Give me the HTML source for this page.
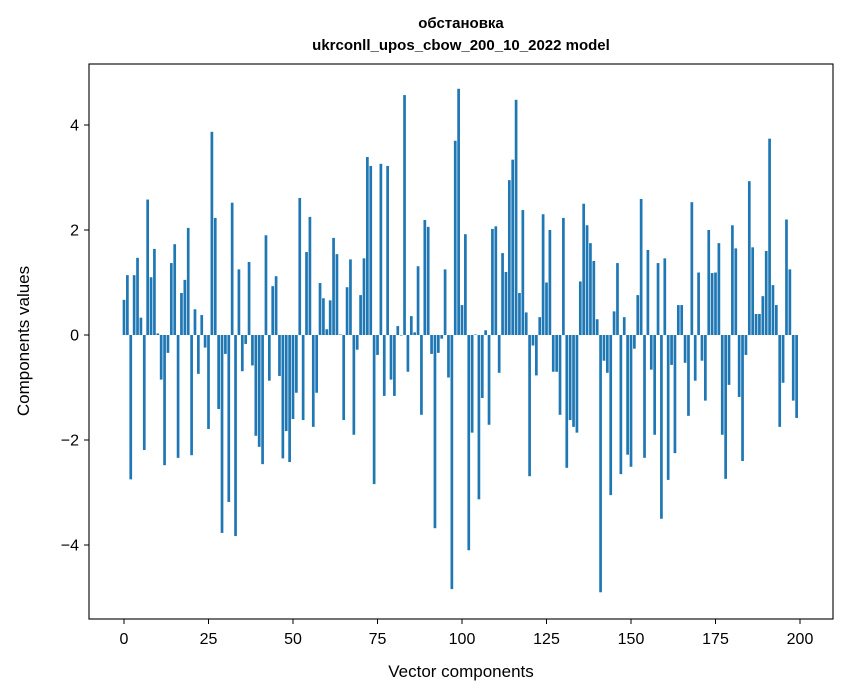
<!DOCTYPE html>
<html><head><meta charset="utf-8"><style>
html,body{margin:0;padding:0;background:#fff;}
svg{display:block;font-family:"Liberation Sans","DejaVu Sans",sans-serif;}
</style></head><body>
<svg id="chart" width="847" height="696" viewBox="0 0 847 696" xmlns="http://www.w3.org/2000/svg">
<rect x="0" y="0" width="847" height="696" fill="#fff"/>
<text x="461" y="28" text-anchor="middle" font-size="15" font-weight="bold">обстановка</text>
<text x="461" y="50" text-anchor="middle" font-size="15" font-weight="bold">ukrconll_upos_cbow_200_10_2022 model</text>
<g id="bars"></g>
<g id="xticks"></g>
<g id="yticks"></g>
<rect x="89" y="64" width="744" height="555" fill="none" stroke="#000" stroke-width="1.1"/>
<text x="461" y="677" text-anchor="middle" font-size="17">Vector components</text>
<text transform="translate(29,341) rotate(-90)" text-anchor="middle" font-size="17">Components values</text>
</svg>
<script>
const values = [0.67,1.14,-2.75,1.14,1.47,0.33,-2.19,2.58,1.1,1.64,0.03,-0.85,-2.48,-0.34,1.37,1.73,-2.34,0.8,1.05,2.04,
-2.29,0.49,-0.74,0.38,-0.24,-1.79,3.87,2.23,-1.41,-3.77,-0.36,-3.18,2.52,-3.83,1.25,-0.69,-0.17,1.39,-0.58,-1.92,
-2.13,-2.46,1.9,-0.87,0.93,1.12,-0.78,-2.35,-1.83,-2.42,-1.6,-1.1,2.61,-1.62,1.58,2.25,-1.75,-1.1,0.99,0.7,
0.11,0.66,1.85,1.54,0.01,-1.62,0.91,1.44,-1.9,-0.28,0.76,1.46,3.39,3.22,-2.84,-0.38,3.26,-1.16,3.22,-0.85,
-1.16,0.17,-0.01,4.57,-0.7,0.36,0.05,1.31,-1.52,2.19,2.06,-0.36,-3.68,-0.34,-0.07,1.25,-0.81,-4.84,3.7,4.69,
0.57,1.92,-4.1,-1.86,0.01,-3.13,-1.2,0.09,-1.71,2.02,2.07,-0.72,1.56,1.2,2.95,3.34,4.48,0.8,2.38,0.43,
-2.69,-0.2,-0.77,0.34,2.3,1.0,2.0,-0.7,-0.7,-1.52,2.23,-2.53,-1.62,-1.75,-1.86,1.02,2.5,2.09,1.75,1.41,
0.3,-4.9,-0.49,-0.72,-3.05,0.45,1.37,-2.65,0.34,-2.28,-2.51,-0.26,0.76,2.59,-2.34,1.62,-0.66,-1.9,1.37,-3.5,
1.46,-2.76,-0.57,-2.25,0.57,0.57,-0.53,-1.54,2.53,-0.87,1.19,-0.49,-1.25,2.0,1.18,1.19,1.75,-1.9,-2.74,-0.95,
2.09,1.65,-1.18,-2.4,-0.38,2.93,1.67,0.4,0.4,0.74,1.6,3.74,0.95,0.57,-1.75,-0.91,2.2,1.25,-1.25,-1.58];
const xTickValues = [0,25,50,75,100,125,150,175,200];
const yTickValues = [-4,-2,0,2,4];
const yTickLabels = ["\u22124","\u22122","0","2","4"];

const NS = "http://www.w3.org/2000/svg";
function xScale(v){ return 124 + (v) * 3.38; }
function yScale(v){ return 335 - v * 52.5; }
const barsG = document.getElementById('bars');
values.forEach(function(v, i){
  const r = document.createElementNS(NS,'rect');
  const x0 = xScale(i - 0.4), x1 = xScale(i + 0.4);
  const y0 = yScale(Math.max(v,0)), y1 = yScale(Math.min(v,0));
  r.setAttribute('x', x0);
  r.setAttribute('width', x1 - x0);
  r.setAttribute('y', y0);
  r.setAttribute('height', Math.max(y1 - y0, 0.3));
  r.setAttribute('fill', '#1f77b4');
  
  
  barsG.appendChild(r);
});
const xg = document.getElementById('xticks');
xTickValues.forEach(function(t){
  const x = xScale(t);
  const l = document.createElementNS(NS,'line');
  l.setAttribute('x1',x); l.setAttribute('x2',x); l.setAttribute('y1',619); l.setAttribute('y2',624);
  l.setAttribute('stroke','#000'); l.setAttribute('stroke-width','1');
  
  
  xg.appendChild(l);
  const tx = document.createElementNS(NS,'text');
  tx.setAttribute('x',x); tx.setAttribute('y',644); tx.setAttribute('text-anchor','middle'); tx.setAttribute('font-size','16');
  tx.textContent = String(t);
  
  
  xg.appendChild(tx);
});
const yg = document.getElementById('yticks');
yTickValues.forEach(function(t, k){
  const y = yScale(t);
  const l = document.createElementNS(NS,'line');
  l.setAttribute('x1',84); l.setAttribute('x2',89); l.setAttribute('y1',y); l.setAttribute('y2',y);
  l.setAttribute('stroke','#000'); l.setAttribute('stroke-width','1');
  
  
  yg.appendChild(l);
  const tx = document.createElementNS(NS,'text');
  tx.setAttribute('x',79); tx.setAttribute('y',y+5.5); tx.setAttribute('text-anchor','end'); tx.setAttribute('font-size','16');
  tx.textContent = yTickLabels[k];
  
  
  yg.appendChild(tx);
});
</script>
</body></html>
